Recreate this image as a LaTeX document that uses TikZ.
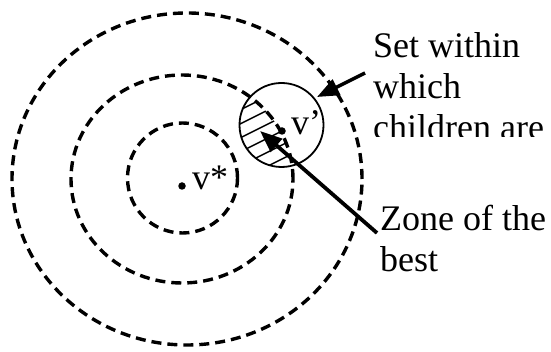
\documentclass[tikz,border=0pt]{standalone}
\usepackage{fontspec}
\setmainfont{Liberation Serif}
\usetikzlibrary{arrows.meta}

\begin{document}
\begin{tikzpicture}[x=1pt,y=1pt,font=\fontsize{36}{41}\selectfont,
          ring/.style={draw=black,dash pattern=on 10pt off 6pt,line width=3.4pt},
          child/.style={draw=black,line width=1.8pt},
          hatch/.style={line width=1.4pt},
          dot/.style={circle,fill=black,inner sep=0pt,minimum size=7.5pt},
          pointer/.style={-{Triangle[length=22pt,width=17pt]},line width=3.4pt},
          caption/.style={anchor=base west,inner sep=0pt,align=left}]
        \useasboundingbox (0,0) rectangle (551,352);
        % Nested level sets around the optimum v*.
        \draw[ring] (182.5,174) circle (55);
        \draw[ring] (182,173) ellipse (111 and 104);
        \draw[ring] (187,173) ellipse (175 and 166);
        \node[child,circle,minimum size=84pt,inner sep=0pt] (childset) at (281.5,227) {};
        % Zone of the best: children set inside the middle level set.
        \begin{scope}
          \clip (281.5,227) circle (42);
          \clip (182,173) ellipse (111 and 104);
          \foreach \b in {242,228,214,200,186,172}{%
            \draw[hatch] (200,{\b-20}) -- (300,{\b+30});
          }
        \end{scope}
        \node[dot] (vstar) at (182,166) {};
        \node[caption] (vstarlabel) at (192,162) {v*};
        \node[dot] (vprime) at (282,221) {};
        \node[caption] (vprimelabel) at (291,217) {v’};
        \begin{scope}
          \clip (360,215) rectangle (551,352);
          \node[caption] (setlabel) at (373,212) {Set within\\which\\children are};
        \end{scope}
        \node[caption] (zonelabel) at (380,80) {Zone of the\\best};
        \coordinate (settail) at (365,279);
        \coordinate (sethead) at (317,255);
        \coordinate (zonetail) at (377,119);
        \coordinate (zonehead) at (260,221);
        \draw[pointer] (settail) -- (sethead);
        \draw[pointer,line width=3.8pt] (zonetail) -- (zonehead);
      \end{tikzpicture}
\end{document}
